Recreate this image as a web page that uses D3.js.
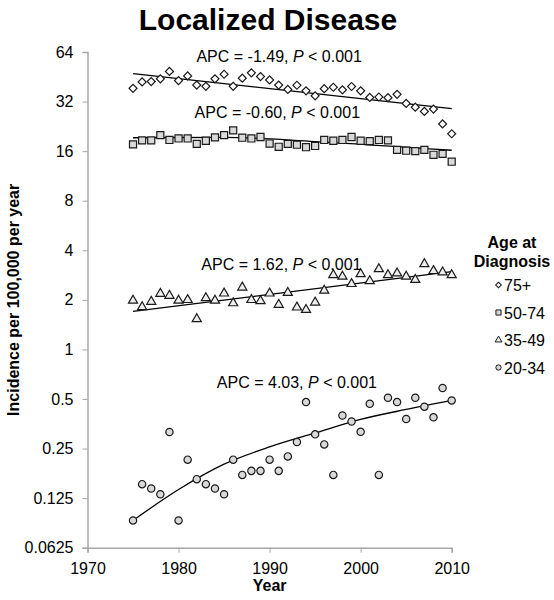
<!DOCTYPE html>
<html>
<head>
<meta charset="utf-8">
<script src="https://cdn.jsdelivr.net/npm/d3@7"></script>
<style>
  html, body { margin: 0; padding: 0; background: #fff; }
  svg { display: block; font-family: "Liberation Sans", Arial, sans-serif; }
</style>
</head>
<body>
<svg id="chart" width="554" height="600"></svg>
<script>
// ---------- data ----------
const years = [1975,1976,1977,1978,1979,1980,1981,1982,1983,1984,1985,1986,1987,1988,1989,1990,1991,1992,
               1993,1994,1995,1996,1997,1998,1999,2000,2001,2002,2003,2004,2005,2006,2007,2008,2009,2010];
const age75 = [38.5,42.1,42.3,44.0,48.8,42.9,45.8,40.3,39.6,44.0,46.9,39.6,44.4,47.8,45.4,43.3,40.3,37.9,
               40.2,37.2,34.7,38.3,39.1,37.7,39.5,37.2,33.9,34.1,33.8,35.4,31.2,29.6,27.9,28.8,23.4,20.4];
const age50 = [17.6,18.6,18.6,20.0,18.7,19.1,19.1,17.7,18.5,19.4,20.0,21.4,19.3,19.1,19.5,17.8,17.0,17.7,
               17.5,16.9,17.2,18.7,18.5,18.7,19.5,18.5,18.4,18.7,18.6,16.3,16.1,16.0,16.3,15.2,15.4,13.8];
const age35 = [1.98,1.81,1.95,2.18,2.12,1.98,2.00,1.53,2.05,1.98,2.19,1.91,2.38,2.00,1.97,2.19,1.87,2.21,
               1.80,1.74,1.93,2.28,2.83,2.77,2.50,2.87,2.60,3.08,2.83,2.90,2.77,2.65,3.30,3.00,2.94,2.83];
const age20 = [0.0915,0.152,0.143,0.132,0.315,0.0915,0.214,0.163,0.152,0.143,0.132,0.214,0.173,0.183,
               0.183,0.214,0.183,0.224,0.274,0.479,0.305,0.265,0.173,0.397,0.365,0.316,0.468,0.173,0.509,
               0.479,0.378,0.509,0.449,0.387,0.583,0.49];

// fitted trend lines
const fitYears75 = [1975, 2010];
const fit75 = [47.3, 29.0];
const fitYears50 = [1975, 1985, 1995, 2010];
const fit50 = [19.3, 19.4, 18.3, 16.2];
const fitYears35 = [1975, 2010];
const fit35 = [1.70, 2.97];
const fitYears20 = [1975, 1980, 1985, 1990, 1995, 2000, 2005, 2010];
const fit20 = [0.0915, 0.141, 0.201, 0.256, 0.311, 0.376, 0.432, 0.49];

const seriesNames = ["75+", "50-74", "35-49", "20-34"];
const apcLabels = ["-1.49", "-0.60", "1.62", "4.03"];
const apcYears = [1991.05, 1990.85, 1991.3, 1993.0];
const apcValues = [56, 25.6, 3.02, 0.58];

const xTicks = [1970, 1980, 1990, 2000, 2010];
const yTicks = [0.0625, 0.125, 0.25, 0.5, 1, 2, 4, 8, 16, 32, 64];
const yTickLabels = ["0.0625", "0.125", "0.25", "0.5", "1", "2", "4", "8", "16", "32", "64"];

// ---------- layout ----------
const svg = d3.select("#chart");
const pLeft = 87.5, pRight = 451.7, pTop = 52, pBottom = 547.7;
const x = d3.scaleLinear().domain([1970, 2010]).range([pLeft, pRight]);
const y = d3.scaleLog().base(2).domain([0.0625, 64]).range([pBottom, pTop]);
const axisColor = "#a6a6a6";

// title
svg.append("text").attr("x", 268).attr("y", 30).attr("text-anchor", "middle")
  .attr("font-size", 30).attr("font-weight", "bold").attr("fill", "#000").text("Localized Disease");

// axes
const xAxis = svg.append("g").attr("transform", `translate(0,${pBottom})`)
  .call(d3.axisBottom(x).tickValues(xTicks).tickFormat(d3.format("d")).tickSizeOuter(0).tickSize(5).tickPadding(10));
xAxis.select(".domain").attr("stroke", axisColor).attr("stroke-width", 1.5);
xAxis.selectAll(".tick line").attr("stroke", axisColor).attr("stroke-width", 1);
xAxis.selectAll(".tick text").attr("font-size", 16).attr("fill", "#000").attr("font-family", "Liberation Sans, Arial, sans-serif");

const yAxis = svg.append("g").attr("transform", `translate(${pLeft},0)`)
  .call(d3.axisLeft(y).tickValues(yTicks).tickFormat((d, i) => yTickLabels[i]).tickSizeOuter(0).tickSize(5).tickPadding(9));
yAxis.select(".domain").attr("stroke", axisColor).attr("stroke-width", 1.5);
yAxis.selectAll(".tick line").attr("stroke", axisColor).attr("stroke-width", 1);
yAxis.selectAll(".tick text").attr("font-size", 16).attr("fill", "#000").attr("font-family", "Liberation Sans, Arial, sans-serif");

// axis titles
svg.append("text").attr("x", (pLeft + pRight) / 2).attr("y", 591).attr("text-anchor", "middle")
  .attr("font-size", 16).attr("font-weight", "bold").text("Year");
svg.append("text").attr("transform", `translate(19,${(pTop + pBottom) / 2}) rotate(-90)`)
  .attr("text-anchor", "middle").attr("font-size", 16).attr("font-weight", "bold")
  .text("Incidence per 100,000 per year");

// ---------- fit lines ----------
const fits = [[fitYears75, fit75], [fitYears50, fit50], [fitYears35, fit35], [fitYears20, fit20]];
const line = d3.line().x(d => x(d[0])).y(d => y(d[1])).curve(d3.curveMonotoneX);
fits.forEach(([fy, fv]) => {
  svg.append("path").datum(fy.map((yr, i) => [yr, fv[i]]))
    .attr("d", line).attr("fill", "none").attr("stroke", "#000").attr("stroke-width", 1.3);
});

// ---------- markers ----------
const shapes = [
  { gen: d3.symbol().type(d3.symbolSquare).size(32), rot: 45, fill: "#ffffff" },
  { gen: d3.symbol().type(d3.symbolSquare).size(50), rot: 0, fill: "#d9d9d9" },
  { gen: d3.symbol().type(d3.symbolTriangle).size(36), rot: 0, fill: "#eeeeee" },
  { gen: d3.symbol().type(d3.symbolCircle).size(42), rot: 0, fill: "#d9d9d9" }
];
const seriesVals = [age75, age50, age35, age20];
seriesVals.forEach((vals, s) => {
  svg.append("g").selectAll("path").data(years.map((yr, i) => [yr, vals[i]])).join("path")
    .attr("d", shapes[s].gen())
    .attr("transform", d => `translate(${x(d[0])},${y(d[1])}) rotate(${shapes[s].rot})`)
    .attr("fill", shapes[s].fill).attr("stroke", "#1a1a1a").attr("stroke-width", 1.2);
});

// ---------- APC annotations ----------
apcLabels.forEach((lab, i) => {
  const t = svg.append("text").attr("x", x(apcYears[i])).attr("y", y(apcValues[i]))
    .attr("text-anchor", "middle").attr("font-size", 16).attr("fill", "#000");
  t.append("tspan").text(`APC = ${lab}, `);
  t.append("tspan").attr("font-style", "italic").text("P");
  t.append("tspan").text(" < 0.001");
});

// ---------- legend ----------
const lg = svg.append("g");
lg.append("text").attr("x", 512).attr("y", 248).attr("text-anchor", "middle")
  .attr("font-size", 16).attr("font-weight", "bold").text("Age at");
lg.append("text").attr("x", 512).attr("y", 267).attr("text-anchor", "middle")
  .attr("font-size", 16).attr("font-weight", "bold").text("Diagnosis");
const legendShapes = [
  d3.symbol().type(d3.symbolSquare).size(16),
  d3.symbol().type(d3.symbolSquare).size(26),
  d3.symbol().type(d3.symbolTriangle).size(20),
  d3.symbol().type(d3.symbolCircle).size(22)
];
seriesNames.forEach((name, i) => {
  const cy = 285 + i * 27.5;
  lg.append("path").attr("d", legendShapes[i]())
    .attr("transform", `translate(498.5,${cy}) rotate(${shapes[i].rot})`)
    .attr("fill", shapes[i].fill).attr("stroke", "#1a1a1a").attr("stroke-width", 1);
  lg.append("text").attr("x", 504).attr("y", cy + 6).attr("font-size", 16).text(name);
});
</script>
</body>
</html>
